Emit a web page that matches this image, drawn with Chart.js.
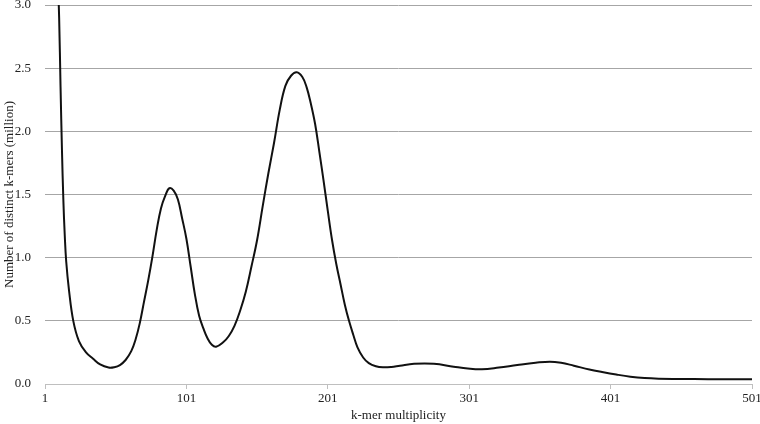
<!DOCTYPE html>
<html lang="en">
<head>
    <meta charset="UTF-8">
    <title>k-mer multiplicity</title>
    <script src="https://cdn.jsdelivr.net/npm/chart.js@4/dist/chart.umd.min.js"></script>
    <style>
        html, body {
            margin: 0;
            padding: 0;
            background: #ffffff;
        }
        #wrap {
            width: 760px;
            height: 424px;
        }
    </style>
</head>
<body>
    <div id="wrap"><canvas id="kmer-chart" width="760" height="424"></canvas></div>

    <script>
        // values (million distinct k-mers)
        const multiplicity = [
            1, 6, 9, 11, 12, 13, 14, 15, 16, 18, 21, 25, 30, 35, 40, 46, 50, 54, 58, 62,
            65, 68, 71, 74, 77, 80, 83, 86, 89, 92, 95, 98, 101, 104, 107, 110, 113, 116, 119, 122,
            127, 131, 135, 139, 143, 147, 151, 155, 159, 163, 167, 171, 175, 179, 183, 186, 189, 192, 195, 198,
            201, 204, 207, 210, 213, 216, 219, 222, 226, 230, 235, 240, 246, 252, 262, 276, 290, 300, 310, 322,
            335, 348, 358, 366, 375, 386, 395, 405, 415, 425, 435, 450, 470, 490, 501
        ];
        const distinctKmers = [
            12.0, 5.5, 3.7, 2.9, 2.35, 1.85, 1.45, 1.17, 0.97, 0.74, 0.5, 0.34, 0.25, 0.2, 0.155, 0.13, 0.133, 0.15, 0.19, 0.26,
            0.35, 0.48, 0.65, 0.82, 1.01, 1.22, 1.39, 1.49, 1.55, 1.53, 1.46, 1.31, 1.15, 0.93, 0.71, 0.54, 0.44, 0.36, 0.31, 0.295,
            0.33, 0.38, 0.46, 0.58, 0.73, 0.93, 1.14, 1.41, 1.67, 1.91, 2.17, 2.36, 2.44, 2.467, 2.43, 2.35, 2.22, 2.06, 1.84, 1.61,
            1.37, 1.14, 0.95, 0.79, 0.63, 0.5, 0.39, 0.29, 0.21, 0.165, 0.14, 0.132, 0.135, 0.145, 0.16, 0.16, 0.137, 0.122, 0.116, 0.13,
            0.15, 0.168, 0.177, 0.168, 0.145, 0.115, 0.095, 0.075, 0.058, 0.047, 0.042, 0.04, 0.038, 0.037, 0.037
        ];
        const xTicks = [1, 101, 201, 301, 401, 501];
        const yTicks = [0, 0.5, 1.0, 1.5, 2.0, 2.5, 3.0];

        const font = 'Liberation Serif';
        Chart.defaults.font.family = font;
        Chart.defaults.color = '#222';

        const points = multiplicity.map((m, i) => ({ x: m, y: distinctKmers[i] }));

        new Chart(document.getElementById('kmer-chart'), {
            type: 'line',
            data: {
                datasets: [{
                    data: points,
                    borderColor: '#111111',
                    borderWidth: 2,
                    pointRadius: 0,
                    fill: false,
                    tension: 0.4
                }]
            },
            options: {
                responsive: false,
                animation: false,
                layout: { padding: { left: 0, top: 5, right: 8, bottom: 0 } },
                plugins: {
                    legend: { display: false },
                    tooltip: { enabled: false }
                },
                scales: {
                    x: {
                        type: 'linear',
                        min: 1,
                        max: 501,
                        afterBuildTicks: s => { s.ticks = xTicks.map(v => ({ value: v })); },
                        afterFit: s => {
                            s.height = 40;
                            s.paddingLeft = 0;
                            s.paddingRight = 0;
                        },
                        grid: { display: true, drawOnChartArea: false, drawTicks: true, tickLength: 5, color: '#bfbfbf' },
                        border: { display: true, color: '#bfbfbf', width: 1 },
                        ticks: { font: { size: 13 }, color: '#222', padding: 2, maxRotation: 0 },
                        title: { display: true, text: 'k-mer multiplicity', font: { size: 13 }, color: '#222', padding: { top: 0, bottom: 1 } }
                    },
                    y: {
                        min: 0,
                        max: 3,
                        afterBuildTicks: s => { s.ticks = yTicks.map(v => ({ value: v })); },
                        afterFit: s => {
                            s.width = 45;
                            s.paddingTop = 0;
                            s.paddingBottom = 0;
                        },
                        grid: { color: '#a6a6a6', drawTicks: false, lineWidth: 1 },
                        border: { display: false },
                        ticks: { font: { size: 13 }, color: '#222', padding: 14, callback: v => v.toFixed(1) },
                        title: { display: true, text: 'Number of distinct k-mers (million)', font: { size: 13 }, color: '#222', padding: { top: 2, bottom: 0 } }
                    }
                }
            }
        });
    </script>
</body>
</html>
